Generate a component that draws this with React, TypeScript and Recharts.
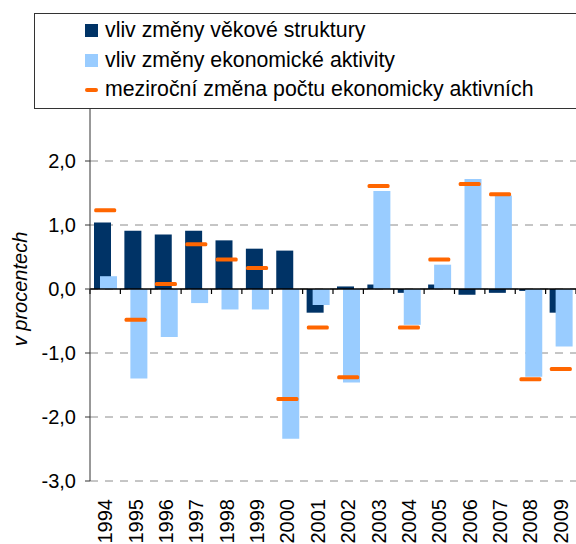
import React from 'react';
import {
  ComposedChart,
  Bar,
  Line,
  XAxis,
  YAxis,
  CartesianGrid,
  ReferenceLine,
  Legend,
} from 'recharts';

const YEARS = ['1994', '1995', '1996', '1997', '1998', '1999', '2000', '2001', '2002', '2003', '2004', '2005', '2006', '2007', '2008', '2009'];
const AGE_EFFECT = [1.04, 0.91, 0.85, 0.91, 0.76, 0.63, 0.6, -0.37, 0.04, 0.07, -0.06, 0.07, -0.09, -0.06, -0.03, -0.37];
const ACTIVITY_EFFECT = [0.2, -1.4, -0.75, -0.22, -0.32, -0.32, -2.34, -0.25, -1.46, 1.53, -0.56, 0.38, 1.72, 1.46, -1.37, -0.9];
const TOTAL_CHANGE = [1.23, -0.48, 0.08, 0.7, 0.46, 0.33, -1.72, -0.6, -1.38, 1.61, -0.6, 0.46, 1.64, 1.48, -1.41, -1.25];
const Y_TICKS = [-3, -2, -1, 0, 1, 2, 3];
const SERIES_NAMES = [
  'vliv změny věkové struktury',
  'vliv změny ekonomické aktivity',
  'meziroční změna počtu ekonomicky aktivních',
];
const COLORS = ['#003366', '#99ccff', '#ff6600'];

const FONT = '"Liberation Sans", Arial, sans-serif';

const data = YEARS.map((year, i) => ({
  year,
  age: AGE_EFFECT[i],
  activity: ACTIVITY_EFFECT[i],
  total: TOTAL_CHANGE[i],
}));

// zero line with small ticks between the categories
const ZeroAxis = (props: any) => {
  const { x1, x2, y1 } = props;
  const step = (x2 - x1) / YEARS.length;
  const marks = [];
  for (let i = 0; i <= YEARS.length; i++) {
    const x = x1 + step * i;
    marks.push(<line key={i} x1={x} x2={x} y1={y1} y2={y1 + 5} stroke="#000" strokeWidth={1.2} />);
  }
  return (
    <g>
      <line x1={x1} x2={x2} y1={y1} y2={y1} stroke="#000" strokeWidth={1.5} />
      {marks}
    </g>
  );
};

const OrangeDash = (props: any) => {
  const { cx, cy } = props;
  if (cx == null || cy == null) return null;
  return <rect x={cx - 11} y={cy - 2} width={22} height={4} rx={1.5} fill={COLORS[2]} />;
};

const YearTick = (props: any) => {
  const { x, y, payload } = props;
  return (
    <text
      x={x}
      y={y}
      transform={`rotate(-90, ${x}, ${y})`}
      textAnchor="end"
      dy="0.35em"
      fontSize={20}
      fontFamily={FONT}
      fill="#000"
    >
      {payload.value}
    </text>
  );
};

const LegendBox = () => (
  <div
    style={{
      width: '100%',
      height: '100%',
      boxSizing: 'border-box',
      border: '1px solid #333',
      borderRight: 'none',
      background: '#fff',
      paddingTop: 2,
      fontFamily: FONT,
      fontSize: 21.3,
      color: '#000',
    }}
  >
    {SERIES_NAMES.map((name, i) => (
      <div key={name} style={{ height: 29.5, display: 'flex', alignItems: 'center' }}>
        <div style={{ width: 50 }} />
        {i < 2 ? (
          <div style={{ width: 13, height: 13, background: COLORS[i] }} />
        ) : (
          <div style={{ width: 13, height: 4, borderRadius: 2, background: COLORS[i] }} />
        )}
        <span style={{ marginLeft: 7, whiteSpace: 'nowrap' }}>{name}</span>
      </div>
    ))}
  </div>
);

export default function App() {
  return (
    <div style={{ position: 'absolute', left: 0, top: 0, width: 576, height: 544, overflow: 'hidden', background: '#fff' }}>
      <ComposedChart
        width={576}
        height={544}
        data={data}
        margin={{ top: 97, right: 0, bottom: 0, left: 0 }}
        barSize={17}
        barGap={-11}
      >
        <CartesianGrid vertical={false} stroke="#8c8c8c" strokeDasharray="8 7" />
        <XAxis
          dataKey="year"
          height={63}
          axisLine={false}
          tickLine={false}
          tickSize={0}
          tickMargin={18}
          interval={0}
          tick={<YearTick />}
        />
        <YAxis
          width={90}
          domain={[-3, 3]}
          ticks={Y_TICKS}
          interval={0}
          tickSize={5}
          tickMargin={9}
          axisLine={{ stroke: '#333' }}
          tickLine={{ stroke: '#333' }}
          tick={{ fontSize: 20, fontFamily: FONT, fill: '#000' }}
          tickFormatter={(v: number) => v.toFixed(1).replace('.', ',')}
          label={{
            value: 'v procentech',
            angle: -90,
            position: 'insideLeft',
            offset: 20,
            style: { textAnchor: 'middle', fontSize: 20, fontStyle: 'italic', fontFamily: FONT, fill: '#000' },
          }}
        />
        <Bar dataKey="age" name={SERIES_NAMES[0]} fill={COLORS[0]} isAnimationActive={false} />
        <Bar dataKey="activity" name={SERIES_NAMES[1]} fill={COLORS[1]} isAnimationActive={false} />
        <ReferenceLine y={0} shape={<ZeroAxis />} />
        <Line
          dataKey="total"
          name={SERIES_NAMES[2]}
          stroke="none"
          dot={<OrangeDash />}
          activeDot={false}
          isAnimationActive={false}
        />
        <Legend
          layout="vertical"
          align="center"
          verticalAlign="middle"
          wrapperStyle={{ top: 13, left: 34, width: 542, height: 96 }}
          content={<LegendBox />}
        />
      </ComposedChart>
    </div>
  );
}
